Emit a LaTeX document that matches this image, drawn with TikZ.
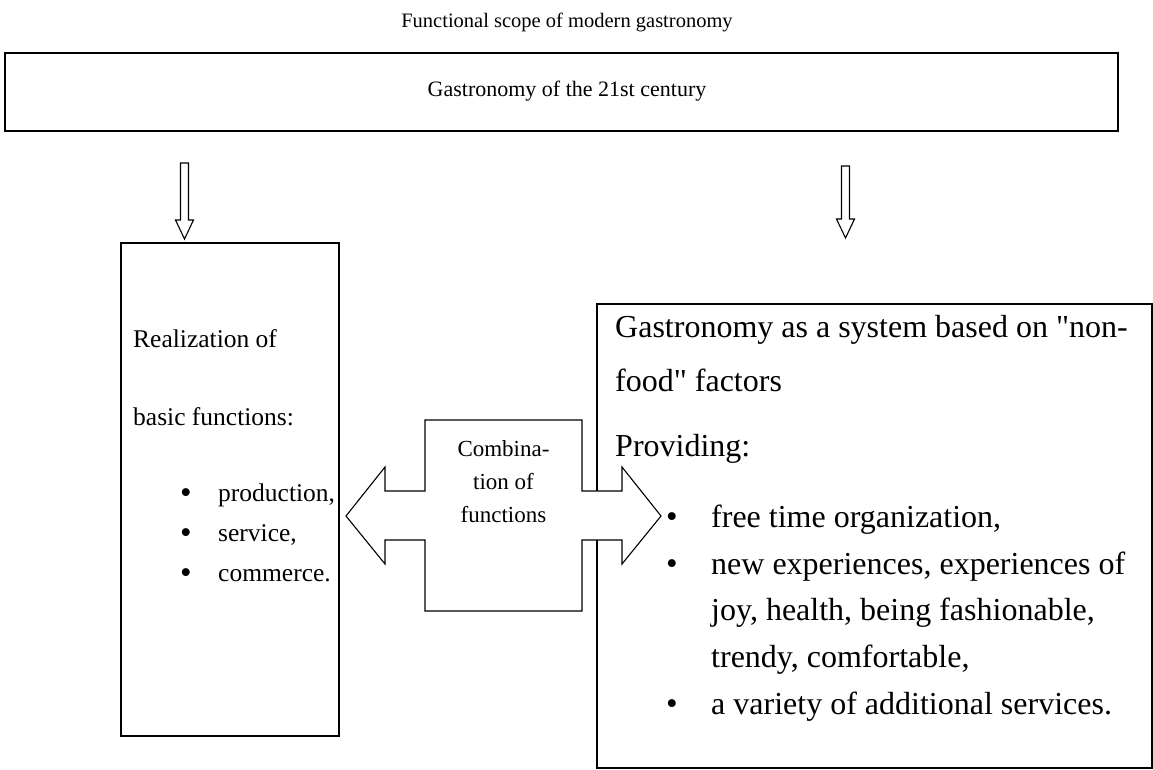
\documentclass[tikz,border=0pt]{standalone}
\usepackage{fontspec}
\setmainfont{Liberation Serif}[Ligatures=TeXOff]
\begin{document}
\begin{tikzpicture}[x=1pt,y=-1pt,
  box/.style={draw, line width=1.5pt, inner sep=0pt, anchor=north west},
  hollow/.style={draw, line width=1.1pt, fill=white, line join=miter},
  lbl/.style={inner sep=0pt, anchor=base west},
  bul/.style={inner sep=0pt, anchor=base, font=\fontsize{33}{38}\selectfont},
  big/.style={font=\fontsize{32}{38}\selectfont},
  mid/.style={font=\fontsize{25.5}{30}\selectfont},
  downarr/.pic={\draw[hollow] (-4,-#1) -- (4,-#1) -- (4,-19) -- (9,-19) -- (0,0) -- (-9,-19) -- (-4,-19) -- cycle;}
]
\useasboundingbox (0,0) rectangle (1153,769);
% title
\node[inner sep=0pt, anchor=base, font=\fontsize{20.5}{24}\selectfont] (title) at (567,27) {Functional scope of modern gastronomy};
% top box
\node[box, line width=2pt, minimum width=1113.5pt, minimum height=78pt] (top) at (3.5,52) {};
\node[inner sep=0pt, anchor=base, font=\fontsize{22}{26}\selectfont] (toptext) at (567,96) {Gastronomy of the 21st century};
% boxes
\node[box, minimum width=218pt, minimum height=493pt] (left) at (120,242) {};
\node[box, minimum width=555pt, minimum height=464pt] (right) at (596,303) {};
% down arrows
\coordinate (la) at (184.5,239);
\coordinate (ra) at (845.5,238);
\pic at (la) {downarr=76};
\pic at (ra) {downarr=72};
% double arrow
\coordinate (dc) at (503.5,516);
\draw[hollow, shift={(dc)}] (-157.5,0) -- (-118.5,-49) -- (-118.5,-25) -- (-78.5,-25) -- (-78.5,-96) -- (78.5,-96) -- (78.5,-25) -- (118.5,-25) -- (118.5,-49) -- (157.5,0) -- (118.5,48) -- (118.5,24) -- (78.5,24) -- (78.5,95) -- (-78.5,95) -- (-78.5,24) -- (-118.5,24) -- (-118.5,48) -- cycle;
\node[inner sep=0pt, align=center, font=\fontsize{23}{33}\selectfont] (comb) at (503.5,482) {Combina-\\tion of\\functions};
% left box text
\node[lbl, mid] (l1) at (133,347) {Realization of};
\node[lbl, mid] (l2) at (133,425) {basic functions:};
\node[bul] (lb1) at (186,503) {•};
\node[lbl, mid] (lt1) at (218,501) {production,};
\node[bul] (lb2) at (186,543) {•};
\node[lbl, mid] (lt2) at (218,541) {service,};
\node[bul] (lb3) at (186,583) {•};
\node[lbl, mid] (lt3) at (218,581) {commerce.};
% right box text
\node[lbl, big] (r1) at (615,337) {Gastronomy as a system based on "non-};
\node[lbl, big] (r2) at (615,391) {food" factors};
\node[lbl, big] (r3) at (615,456) {Providing:};
\node[bul] (rb1) at (672,527) {•};
\node[lbl, big] (rt1) at (711,527) {free time organization,};
\node[bul] (rb2) at (672,574) {•};
\node[lbl, big] (rt2) at (711,574) {new experiences, experiences of};
\node[lbl, big] (rt2b) at (711,620) {joy, health, being fashionable,};
\node[lbl, big] (rt2c) at (711,667) {trendy, comfortable,};
\node[bul] (rb3) at (672,714) {•};
\node[lbl, big] (rt3) at (711,714) {a variety of additional services.};
\end{tikzpicture}
\end{document}
